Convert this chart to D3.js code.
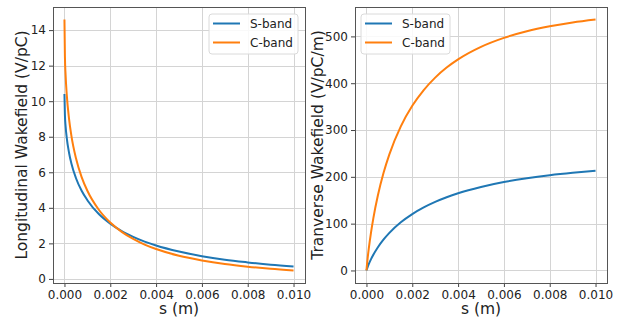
<!DOCTYPE html>
<html>
<head>
<meta charset="utf-8">
<script src="https://cdn.jsdelivr.net/npm/d3@7"></script>
<style>
  body { margin: 0; background: #fff; }
  text { font-family: "DejaVu Sans", sans-serif; fill: #222; }
</style>
</head>
<body>
<svg id="chart" width="623" height="324"></svg>
<script>
// positions along the structure (m)
const sValues = [0, 0.00002, 0.00005, 0.0001, 0.0002, 0.0003, 0.0005, 0.00075, 0.001,
  0.0015, 0.002, 0.0025, 0.003, 0.0035, 0.004, 0.005, 0.006, 0.007, 0.008, 0.009, 0.010];

// longitudinal wakefield (V/pC)
const longS = [10.4, 9.22, 8.59, 7.94, 7.10, 6.51, 5.68, 4.96, 4.43,
  3.65, 3.11, 2.69, 2.37, 2.10, 1.88, 1.54, 1.28, 1.08, 0.93, 0.80, 0.70];
const longC = [14.6, 12.53, 11.47, 10.37, 9.01, 8.08, 6.80, 5.73, 4.96,
  3.89, 3.17, 2.65, 2.25, 1.93, 1.68, 1.30, 1.04, 0.84, 0.69, 0.57, 0.48];

// transverse wakefield (V/pC/m)
const transS = [0, 3.1, 7.1, 13.3, 24.1, 33.5, 49.6, 66.2, 80.2,
  102.8, 120.4, 134.6, 146.4, 156.3, 164.8, 178.3, 188.8, 196.9, 203.4, 208.6, 212.9];
const transC = [0, 11.0, 25.3, 46.2, 81.5, 111.4, 160.5, 209.1, 248.1,
  307.8, 351.7, 385.4, 412.0, 433.4, 450.9, 477.6, 496.8, 510.9, 521.5, 529.7, 536.0];

const seriesNames = ["S-band", "C-band"];
const colors = ["#1f77b4", "#ff7f0e"];
const xTicks = [0, 0.002, 0.004, 0.006, 0.008, 0.010];
const yTicksLong = [0, 2, 4, 6, 8, 10, 12, 14];
const yTicksTrans = [0, 100, 200, 300, 400, 500];

const svg = d3.select("#chart");

function drawPanel(p) {
  const g = svg.append("g");
  const x = d3.scaleLinear().domain([-0.0005, 0.0105]).range([p.left, p.right]);
  const y = d3.scaleLinear().domain(p.yDomain).range([p.bottom, p.top]);

  // grid
  g.append("g").selectAll("line").data(xTicks).join("line")
    .attr("x1", d => Math.round(x(d)) + 0.5).attr("x2", d => Math.round(x(d)) + 0.5)
    .attr("y1", p.top).attr("y2", p.bottom)
    .attr("stroke", "#d4d4d4").attr("stroke-width", 1);
  g.append("g").selectAll("line").data(p.yTicks).join("line")
    .attr("x1", p.left).attr("x2", p.right)
    .attr("y1", d => Math.round(y(d)) + 0.5).attr("y2", d => Math.round(y(d)) + 0.5)
    .attr("stroke", "#d4d4d4").attr("stroke-width", 1);

  // axes
  const xAxis = g.append("g")
    .attr("transform", `translate(0,${p.bottom})`)
    .call(d3.axisBottom(x).tickValues(xTicks).tickFormat(d3.format(".3f")).tickSizeOuter(0).tickSize(4).tickPadding(3));
  const yAxis = g.append("g")
    .attr("transform", `translate(${p.left},0)`)
    .call(d3.axisLeft(y).tickValues(p.yTicks).tickFormat(d3.format("d")).tickSizeOuter(0).tickSize(4).tickPadding(3));
  [xAxis, yAxis].forEach(a => {
    a.select(".domain").remove();
    a.selectAll(".tick line").attr("stroke", "#444");
    a.selectAll(".tick text").style("font-size", "12px").attr("fill", "#222");
  });

  // lines
  const line = d3.line()
    .x((d, i) => x(sValues[i]))
    .y(d => y(d))
    .curve(d3.curveMonotoneX);
  p.series.forEach((vals, k) => {
    g.append("path")
      .datum(vals)
      .attr("fill", "none")
      .attr("stroke", colors[k])
      .attr("stroke-width", 2)
      .attr("d", line);
  });

  // frame
  g.append("rect")
    .attr("x", p.left + 0.5).attr("y", p.top + 0.5)
    .attr("width", p.right - p.left).attr("height", p.bottom - p.top)
    .attr("fill", "none").attr("stroke", "#555").attr("stroke-width", 1);

  // axis labels
  g.append("text")
    .attr("x", (p.left + p.right) / 2).attr("y", 314)
    .attr("text-anchor", "middle")
    .style("font-size", "15.5px")
    .text("s (m)");
  g.append("text")
    .attr("transform", `translate(${p.yLabelX},${(p.top + p.bottom) / 2}) rotate(-90)`)
    .attr("text-anchor", "middle")
    .attr("dy", "0.35em")
    .style("font-size", "15.5px")
    .text(p.yLabel);

  // legend
  const lg = g.append("g").attr("transform", `translate(${p.legendX},${p.legendY})`);
  lg.append("rect")
    .attr("width", 89).attr("height", 40).attr("rx", 3)
    .attr("fill", "#fff").attr("fill-opacity", 0.85)
    .attr("stroke", "#dadada");
  seriesNames.forEach((name, k) => {
    const yy = 9.5 + k * 19;
    lg.append("line")
      .attr("x1", 4).attr("x2", 31).attr("y1", yy).attr("y2", yy)
      .attr("stroke", colors[k]).attr("stroke-width", 2);
    lg.append("text")
      .attr("x", 41).attr("y", yy).attr("dy", "0.35em")
      .style("font-size", "12px")
      .text(name);
  });
}

drawPanel({
  left: 53, right: 305, top: 7, bottom: 283,
  yDomain: [-0.23, 15.3], yTicks: yTicksLong,
  series: [longS, longC],
  yLabel: "Longitudinal Wakefield (V/pC)", yLabelX: 22,
  legendX: 209, legendY: 14
});

drawPanel({
  left: 355, right: 607, top: 7, bottom: 283,
  yDomain: [-26.8, 562.8], yTicks: yTicksTrans,
  series: [transS, transC],
  yLabel: "Tranverse Wakefield (V/pC/m)", yLabelX: 318,
  legendX: 361, legendY: 14
});
</script>
</body>
</html>
